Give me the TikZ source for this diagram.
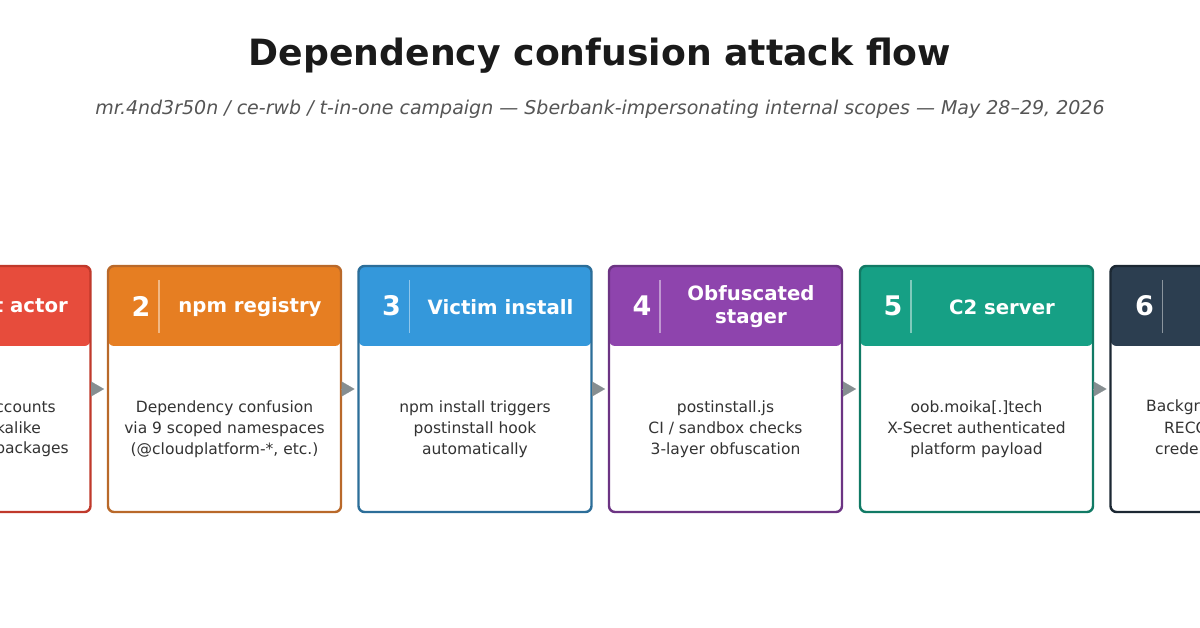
\documentclass[tikz,border=0pt]{standalone}
\usepackage{fontspec}
\setmainfont{DejaVu Sans}
\usetikzlibrary{arrows.meta,calc}
\definecolor{hred}{HTML}{E74C3C}\definecolor{bred}{HTML}{C0392B}
\definecolor{horange}{HTML}{E67E22}\definecolor{borange}{HTML}{B9692A}
\definecolor{hblue}{HTML}{3498DB}\definecolor{bblue}{HTML}{2C6E99}
\definecolor{hpurple}{HTML}{8E44AD}\definecolor{bpurple}{HTML}{6C3483}
\definecolor{hgreen}{HTML}{16A085}\definecolor{bgreen}{HTML}{117A65}
\definecolor{hdark}{HTML}{2C3E50}\definecolor{bdark}{HTML}{1C2833}
\definecolor{arrowgray}{HTML}{868E91}
\definecolor{bodytext}{HTML}{333333}
\definecolor{titletext}{HTML}{1A1A1A}
\definecolor{subtext}{HTML}{555555}
\begin{document}
\begin{tikzpicture}[x=1pt,y=-1pt,
  box/.style 2 args={rectangle, minimum width=233pt, minimum height=246pt,
    inner sep=0pt, outer sep=0pt, fill=white, draw=#2, line width=2.4pt,
    rounded corners=6pt,
    path picture={\fill[#1] (path picture bounding box.north west) rectangle
      ([yshift=-80pt]path picture bounding box.north east);}},
  num/.style={text=white, font=\fontsize{27}{30}\selectfont\bfseries, inner sep=0pt},
  hdrtitle/.style={text=white, font=\fontsize{19.7}{23}\selectfont\bfseries, align=center, inner sep=0pt},
  sepline/.style={draw=white, draw opacity=0.45, line width=1.5pt},
  body/.style={text=bodytext, font=\fontsize{15.5}{21}\selectfont, align=center, inner sep=0pt},
  flow/.style={draw=arrowgray, line width=0.1pt, shorten >=4pt,
    -{Triangle[length=13pt,width=15pt,fill=arrowgray]}}]
\useasboundingbox (0,0) rectangle (1200,628);
\clip (0,0) rectangle (1200,628);
\fill[white] (0,0) rectangle (1200,628);

\node[text=titletext, font=\fontsize{36.2}{40}\selectfont\bfseries] (title) at (600,56) {Dependency confusion attack flow};
\node[text=subtext, font=\fontsize{19}{22}\selectfont\itshape] (subtitle) at (600,109)
  {mr.4nd3r50n / ce-rwb / t-in-one campaign — Sberbank-impersonating internal scopes — May 28–29, 2026};

% boxes
\node[box={hred}{bred}] (b1) at (-26,389) {};
\node[box={horange}{borange}] (b2) at (224.5,389) {};
\node[box={hblue}{bblue}] (b3) at (475,389) {};
\node[box={hpurple}{bpurple}] (b4) at (725.5,389) {};
\node[box={hgreen}{bgreen}] (b5) at (976.5,389) {};
\node[box={hdark}{bdark}] (b6) at (1227,389) {};

% box 1 (partly visible)
\node[hdrtitle, anchor=east] (t1) at (68,306) {t actor};
\node[body, anchor=east] (d1a) at (56,407) {ccounts};
\node[body, anchor=east] (d1b) at (41,428) {kalike};
\node[body, anchor=east] (d1c) at (69,449) {packages};

% box 2..5
\foreach \i/\n/\t/\d in {
  2/2/{npm registry}/{Dependency confusion\\via 9 scoped namespaces\\(@cloudplatform-*, etc.)},
  3/3/{Victim install}/{npm install triggers\\postinstall hook\\automatically},
  4/4/{Obfuscated\\stager}/{postinstall.js\\CI / sandbox checks\\3-layer obfuscation},
  5/5/{C2 server}/{oob.moika[.]tech\\X-Secret authenticated\\platform payload}}{
  \node[num] (n\i) at ($(b\i.north west)+(33,40)$) {\n};
  \draw[sepline] ($(b\i.north west)+(51,14)$) -- ($(b\i.north west)+(51,67)$);
  \node[hdrtitle] (t\i) at ($(b\i.north west)+(142,41)$) {\t};
  \node[body] (d\i) at ($(b\i.north west)+(116.5,163)$) {\d};
}

% box 6 (partly visible)
\node[num] (n6) at ($(b6.north west)+(34,40)$) {6};
\draw[sepline] ($(b6.north west)+(52,14)$) -- ($(b6.north west)+(52,67)$);
\node[body, anchor=west] (d6a) at (1146,407) {Backgr};
\node[body, anchor=west] (d6b) at (1164,428) {RECO};
\node[body, anchor=west] (d6c) at (1155,449) {crede};

% connectors
\draw[flow] (b1.east) -- (b2.west);
\draw[flow] (b2.east) -- (b3.west);
\draw[flow] (b3.east) -- (b4.west);
\draw[flow] (b4.east) -- (b5.west);
\draw[flow] (b5.east) -- (b6.west);
\end{tikzpicture}
\end{document}
